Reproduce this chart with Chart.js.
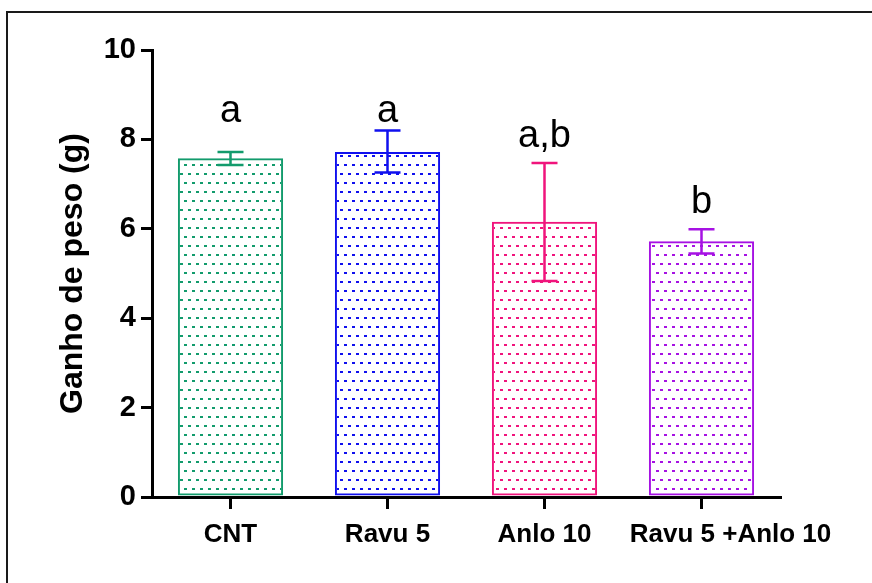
<!DOCTYPE html>
<html>
<head>
<meta charset="utf-8">
<script src="https://cdn.jsdelivr.net/npm/chart.js@4/dist/chart.umd.min.js"></script>
<style>
  html, body { margin: 0; padding: 0; background: #fff; overflow: hidden; }
  #frame { position: absolute; left: 6px; top: 11px; width: 900px; height: 620px; border: 2px solid #1a1a1a; }
  #chart { position: absolute; left: 0; top: 0; }
</style>
</head>
<body>
<div id="frame"></div>
<canvas id="chart" width="872" height="583"></canvas>
<script>
// dane
const categories = ['CNT', 'Ravu 5', 'Anlo 10', 'Ravu 5 +Anlo 10'];
const means = [7.58, 7.72, 6.16, 5.72];
const errLow = [7.43, 7.26, 4.83, 5.45];
const errHigh = [7.72, 8.20, 7.47, 5.99];
const letters = ['a', 'a', 'a,b', 'b'];
const letterPos = [8.4, 8.4, 7.83, 6.35];
const yTicks = [0, 2, 4, 6, 8, 10];
const colors = ['#129b6c', '#1010ee', '#f0147c', '#a612e3'];

const FONT = "'Liberation Sans', Arial, sans-serif";

// wzor kropkowany wypelnienia
function makeDots(color) {
    const c = document.createElement('canvas');
    c.width = 8;
    c.height = 18;
    const g = c.getContext('2d');
    g.fillStyle = color;
    g.fillRect(0, 2, 3, 2);
    g.fillRect(4, 11, 3, 2);
    return g.createPattern(c, 'repeat');
}

// slupki bledow i litery
const extras = {
    id: 'extras',
    afterDatasetsDraw(chart) {
        const ctx = chart.ctx;
        const x = chart.scales.x, y = chart.scales.y;
        ctx.save();
        categories.forEach((cat, i) => {
            const cx = x.getPixelForValue(i);
            const yl = y.getPixelForValue(errLow[i]);
            const yh = y.getPixelForValue(errHigh[i]);
            ctx.strokeStyle = colors[i];
            ctx.lineWidth = 2.5;
            ctx.beginPath();
            ctx.moveTo(cx, yl); ctx.lineTo(cx, yh);
            ctx.moveTo(cx - 13, yl); ctx.lineTo(cx + 13, yl);
            ctx.moveTo(cx - 13, yh); ctx.lineTo(cx + 13, yh);
            ctx.stroke();

            ctx.fillStyle = '#000';
            ctx.font = '38px ' + FONT;
            ctx.textAlign = 'center';
            ctx.textBaseline = 'alphabetic';
            ctx.fillText(letters[i], cx, y.getPixelForValue(letterPos[i]));
        });
        ctx.restore();
    }
};

new Chart(document.getElementById('chart').getContext('2d'), {
    type: 'bar',
    data: {
        labels: categories,
        datasets: [{
            data: means,
            backgroundColor: colors.map(makeDots),
            borderColor: colors,
            borderWidth: 2,
            borderSkipped: false,
            categoryPercentage: 1,
            barPercentage: 0.67
        }]
    },
    options: {
        responsive: false,
        devicePixelRatio: 1,
        animation: false,
        layout: { padding: { top: 50, right: 92, left: 0, bottom: 0 } },
        plugins: { legend: { display: false }, tooltip: { enabled: false } },
        scales: {
            x: {
                grid: { display: true, drawOnChartArea: false, drawTicks: true, tickLength: 12, color: '#000', lineWidth: 3, offset: false },
                border: { display: true, color: '#000', width: 3 },
                ticks: { color: '#000', padding: 10, autoSkip: false, maxRotation: 0, font: { family: FONT, size: 26, weight: 'bold' } },
                afterFit: s => { s.height = 86; },
                // ostatnia etykieta przesunieta w prawo jak w oryginale
                afterUpdate: s => {
                    if (s._shiftPatched) return;
                    s._shiftPatched = true;
                    const orig = s._computeLabelItems.bind(s);
                    s._computeLabelItems = area => {
                        const items = orig(area);
                        const last = items[items.length - 1];
                        if (last && last.options && last.options.translation) last.options.translation[0] += 29;
                        return items;
                    };
                }
            },
            y: {
                min: 0,
                max: 10,
                afterBuildTicks: s => { s.ticks = yTicks.map(v => ({ value: v })); },
                grid: { display: true, drawOnChartArea: false, drawTicks: true, tickLength: 11, color: '#000', lineWidth: 3 },
                border: { display: true, color: '#000', width: 3 },
                ticks: { color: '#000', padding: 5, font: { family: FONT, size: 29, weight: 'bold' } },
                title: {
                    display: true,
                    text: 'Ganho de peso (g)',
                    color: '#000',
                    font: { family: FONT, size: 32, weight: 'bold' },
                    padding: { top: 54, bottom: 0 }
                },
                afterFit: s => { s.width = 152; }
            }
        }
    },
    plugins: [extras]
});
</script>
</body>
</html>
